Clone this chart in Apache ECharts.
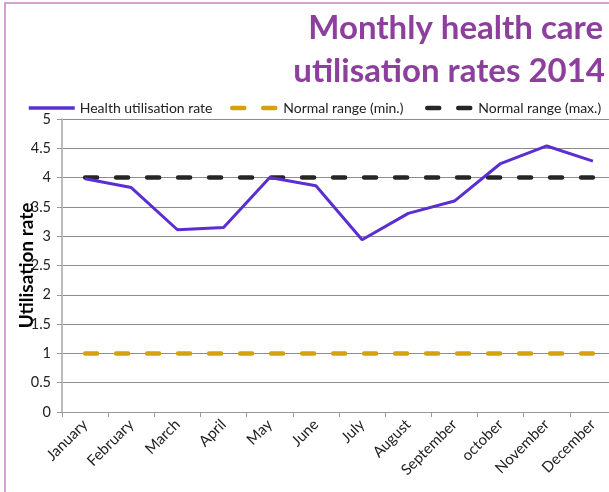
<!DOCTYPE html>
<html>
<head>
<meta charset="utf-8">
<script src="https://cdn.jsdelivr.net/npm/echarts@6/dist/echarts.min.js"></script>
<style>html,body{margin:0;padding:0;background:#fff}#c{width:609px;height:492px}</style>
</head>
<body>
<div id="c"></div>
<script>
var months = ['January','February','March','April','May','June','July','August','September','october','November','December'];
var utilisation = [3.98, 3.83, 3.11, 3.15, 4.0, 3.86, 2.94, 3.39, 3.60, 4.24, 4.54, 4.28];
var normalMin = [1,1,1,1,1,1,1,1,1,1,1,1];
var normalMax = [4,4,4,4,4,4,4,4,4,4,4,4];
var yTicks = [0, 0.5, 1, 1.5, 2, 2.5, 3, 3.5, 4, 4.5, 5];
var titleLines = ['Monthly health care', 'utilisation rates 2014'];

var F = 'Lato, "Open Sans", sans-serif';
var DASH = [12, 19];
var chart = echarts.init(document.getElementById('c'), null, {renderer: 'canvas'});
function legendOf(name, left, dashed) {
  return {
    data: [name], left: left, top: 101, itemWidth: 46, itemHeight: 12, itemGap: 4, padding: 0,
    itemStyle: {opacity: 0},
    lineStyle: dashed ? {width: 4.5, type: DASH, cap: 'round'} : {width: 3.5},
    textStyle: {fontFamily: F, fontSize: 14, color: '#222'}
  };
}
chart.setOption({
  animation: false,
  backgroundColor: '#fff',
  graphic: [
    {type: 'rect', shape: {x: 5, y: 3, width: 700, height: 600},
     style: {fill: 'none', stroke: '#C483C4', lineWidth: 1.5}, silent: true},
    {type: 'text', x: 603, y: 28, silent: true,
     style: {text: titleLines[0], fill: '#8C3F9C', font: 'bold 33px ' + F, textAlign: 'right', textVerticalAlign: 'middle'}},
    {type: 'text', x: 605, y: 71, silent: true,
     style: {text: titleLines[1], fill: '#8C3F9C', font: 'bold 33px ' + F, textAlign: 'right', textVerticalAlign: 'middle'}}
  ],
  legend: [
    legendOf('Health utilisation rate', 27, false),
    legendOf('Normal range (min.)', 230, true),
    legendOf('Normal range (max.)', 425, true)
  ],
  grid: {left: 62, top: 119, width: 554, height: 293, containLabel: false, outerBoundsMode: 'none'},
  xAxis: {
    type: 'category', data: months, boundaryGap: true,
    axisLine: {lineStyle: {color: '#999', width: 1}},
    axisTick: {show: true, length: 5, lineStyle: {color: '#999'}},
    axisLabel: {rotate: 45, margin: 10, fontFamily: F, fontSize: 15, color: '#222', interval: 0}
  },
  yAxis: {
    type: 'value', min: 0, max: 5, interval: 0.5,
    name: 'Utilisation rate', nameLocation: 'middle', nameGap: 26, nameMoveOverlap: false,
    nameTextStyle: {fontFamily: F, fontWeight: 'bold', fontSize: 19, color: '#000'},
    axisLine: {show: true, lineStyle: {color: '#bbb', width: 2}},
    axisTick: {show: true, length: 5, lineStyle: {color: '#999'}},
    axisLabel: {margin: 11, fontFamily: F, fontSize: 14.5, color: '#222',
      formatter: function (v) { return yTicks.indexOf(v) >= 0 ? String(v) : ''; }},
    splitLine: {show: true, lineStyle: {color: '#8c8c8c', width: 1}}
  },
  series: [
    {name: 'Normal range (min.)', type: 'line', data: normalMin, showSymbol: false, symbol: 'none',
     lineStyle: {color: '#D4A20A', width: 4.5, type: DASH, cap: 'round'}, itemStyle: {color: '#D4A20A'}, z: 2},
    {name: 'Normal range (max.)', type: 'line', data: normalMax, showSymbol: false, symbol: 'none',
     lineStyle: {color: '#262626', width: 4.5, type: DASH, cap: 'round'}, itemStyle: {color: '#262626'}, z: 2},
    {name: 'Health utilisation rate', type: 'line', data: utilisation, showSymbol: false, symbol: 'none',
     lineStyle: {color: '#5A2ED0', width: 3}, itemStyle: {color: '#5A2ED0'}, z: 3}
  ]
});
</script>
</body>
</html>
